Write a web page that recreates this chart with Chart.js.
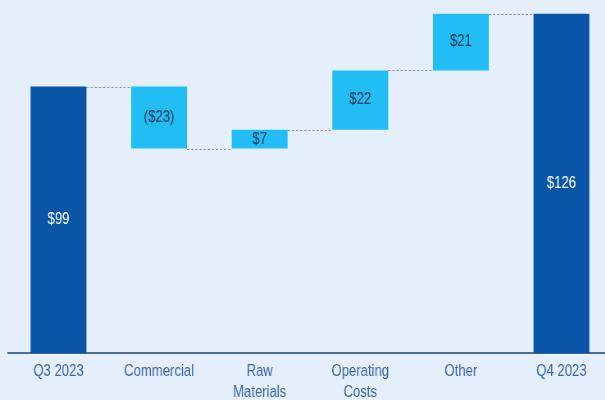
<!DOCTYPE html>
<html>
<head>
<meta charset="utf-8">
<script src="https://cdn.jsdelivr.net/npm/chart.js@4/dist/chart.umd.min.js"></script>
<style>
  html, body { margin: 0; padding: 0; background: #E4EFFB; overflow: hidden; }
  /* chart is laid out wide and condensed horizontally */
  #wrap { position: relative; width: 746px; height: 400px; transform: scaleX(0.82); transform-origin: 0 0; }
</style>
</head>
<body>
<div id="wrap"><canvas id="c"></canvas></div>
<script>
// Quarter-over-quarter bridge (USD)
const categories = ["Q3 2023", "Commercial", ["Raw", "Materials"], ["Operating", "Costs"], "Other", "Q4 2023"];
const startTotal = 99;
const changes = [-23, 7, 22, 21];
const endTotal = 126;
const valueLabels = ["$99", "($23)", "$7", "$22", "$21", "$126"];

const DARK = "#0A56A6";
const LIGHT = "#22BDF4";
const FONT = "'Liberation Sans', Arial, sans-serif";

// Build floating [low, high] ranges for every step of the bridge
const ranges = [];
const colors = [];
ranges.push([0, startTotal]);
colors.push(DARK);
let running = startTotal;
for (const d of changes) {
  const next = running + d;
  ranges.push([running, next]);
  colors.push(LIGHT);
  running = next;
}
ranges.push([0, endTotal]);
colors.push(DARK);

// Dashed connectors between consecutive bars plus centred value labels
const bridgePlugin = {
  id: "bridge",
  afterDatasetsDraw(chart) {
    const { ctx } = chart;
    const meta = chart.getDatasetMeta(0);
    const y = chart.scales.y;
    ctx.save();
    ctx.strokeStyle = "#8E9CAC";
    ctx.lineWidth = 1;
    ctx.setLineDash([3, 2]);
    for (let i = 0; i < meta.data.length - 1; i++) {
      const a = meta.data[i], b = meta.data[i + 1];
      const level = ranges[i][1];
      const py = Math.round(y.getPixelForValue(level)) + 0.5;
      ctx.beginPath();
      ctx.moveTo(a.x + a.width / 2, py);
      ctx.lineTo(b.x - b.width / 2, py);
      ctx.stroke();
    }
    ctx.setLineDash([]);
    ctx.font = "16px " + FONT;
    ctx.textAlign = "center";
    ctx.textBaseline = "middle";
    meta.data.forEach((bar, i) => {
      const mid = (y.getPixelForValue(ranges[i][0]) + y.getPixelForValue(ranges[i][1])) / 2;
      ctx.fillStyle = colors[i] === DARK ? "#FFFFFF" : "#1D3556";
      ctx.fillText(valueLabels[i], bar.x, mid);
    });
    ctx.restore();
  }
};

new Chart(document.getElementById("c"), {
  type: "bar",
  data: {
    labels: categories,
    datasets: [{
      data: ranges,
      backgroundColor: colors,
      borderWidth: 0,
      categoryPercentage: 1,
      barPercentage: 0.555
    }]
  },
  options: {
    responsive: true,
    maintainAspectRatio: false,
    animation: false,
    layout: { padding: { left: 10, right: 0, top: 3, bottom: -11 } },
    plugins: { legend: { display: false }, tooltip: { enabled: false } },
    scales: {
      x: {
        grid: { display: false, drawTicks: false },
        border: { display: true, color: "#506C8C", width: 2 },
        ticks: {
          color: "#3B64A0",
          padding: 8,
          maxRotation: 0,
          autoSkip: false,
          font: { family: FONT, size: 16, lineHeight: 1.3 }
        }
      },
      y: {
        display: false,
        min: 0,
        max: 130
      }
    }
  },
  plugins: [bridgePlugin]
});
</script>
</body>
</html>
